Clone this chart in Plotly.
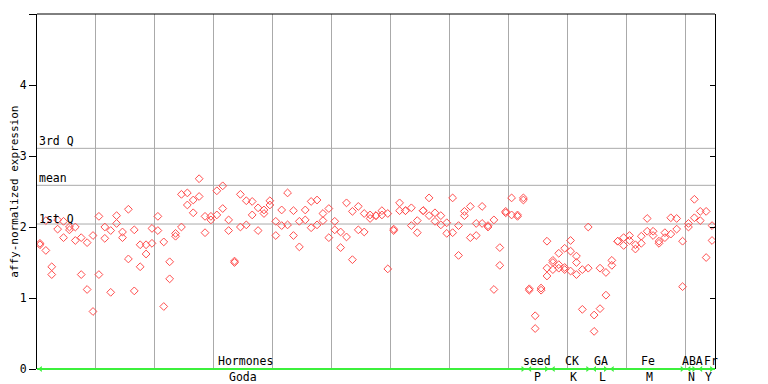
import plotly.graph_objects as go

# ---- data ----
rep1 = [1.77, 2.09, 1.44, 2.10, 2.08, 2.00, 2.00, 1.85, 1.78, 1.88,
        2.15, 2.00, 1.95, 2.16, 1.93, 2.25, 1.96, 1.75, 1.75, 1.98,
        2.15, 1.79, 1.51, 1.91, 2.46, 2.48, 2.38, 2.68, 2.15, 2.15,
        2.51, 2.58, 2.10, 1.52, 2.46, 2.37, 2.36, 2.27, 2.24, 2.37,
        2.08, 2.24, 2.48, 2.23, 2.08, 2.24, 2.36, 2.38, 2.19, 2.26,
        2.08, 1.93, 2.34, 2.22, 2.29, 2.19, 2.17, 2.16, 2.23, 2.19,
        1.97, 2.34, 2.23, 2.27, 2.09, 2.23, 2.41, 2.20, 2.16, 2.06,
        2.41, 2.02, 2.22, 2.29, 2.05, 2.29, 2.02, 2.10, 1.71, 2.22,
        2.41, 2.17, 2.41, 1.13, 0.75, 1.14, 1.80, 1.53, 1.63, 1.70,
        1.81, 1.59, 1.40, 2.00, 0.76, 1.42, 1.36, 1.53, 1.80, 1.85,
        1.88, 1.75, 1.87, 2.12, 1.94, 1.80, 1.92, 2.13, 2.12, 1.80,
        2.05, 2.39, 2.22, 2.22, 2.02]
rep2 = [1.75, 1.67, 1.33, 1.97, 1.85, 1.96, 1.81, 1.33, 1.12, 0.81,
        1.33, 1.84, 1.08, 2.05, 1.85, 1.55, 1.10, 1.44, 1.62, 1.77,
        1.95, 0.88, 1.27, 1.87, 2.00, 2.31, 2.20, 2.43, 1.92, 2.10,
        2.17, 2.26, 1.95, 1.50, 2.00, 2.03, 2.17, 1.95, 2.19, 2.31,
        1.88, 2.02, 2.03, 1.88, 1.72, 2.10, 1.99, 2.03, 2.09, 1.85,
        1.96, 1.71, 1.86, 1.54, 1.96, 1.93, 2.12, 2.16, 2.17, 1.41,
        1.95, 2.23, 2.23, 2.02, 1.92, 2.23, 2.16, 2.08, 2.03, 1.91,
        1.92, 1.60, 2.16, 1.85, 1.88, 2.05, 2.00, 1.12, 1.46, 2.20,
        2.17, 2.15, 2.38, 1.11, 0.57, 1.11, 1.42, 1.50, 1.47, 1.43,
        1.66, 1.50, 0.84, 1.42, 0.53, 0.85, 1.04, 1.46, 1.80, 1.74,
        1.81, 1.69, 1.77, 1.94, 1.88, 1.77, 1.85, 1.90, 1.97, 1.16,
        2.00, 2.13, 2.09, 1.57, 1.81]
rep3_idx = [86, 87, 88, 89, 90, 91]
rep3 = [1.31, 1.40, 1.42, 1.40, 1.38, 1.33]

q_values = [3.108, 2.587, 2.042]
q_labels = ["3rd Q", "mean", "1st Q"]

groups_top = ["Hormones", "seed", "CK", "GA", "Fe", "ABA", "Fr"]
groups_bottom = ["Goda", "P", "K", "L", "M", "N", "Y"]
group_start = [0, 83, 87, 94, 97, 110, 112]
group_end = [83, 87, 94, 97, 110, 112, 115]
label_top_x = [35.3, 84.8, 90.7, 95.6, 103.6, 111.2, 114.4]
label_bot_x = [34.9, 84.9, 91.0, 95.9, 103.9, 111.0, 113.9]

n_samples = len(rep1)
x_pos = [i + 0.5 for i in range(n_samples)]

RED = "#ff4d4d"
GREEN = "#3cf03c"
GRID = "#aaaaaa"
FONT = "DejaVu Sans Mono"

fig = go.Figure()
marker = dict(symbol="diamond-open", size=6, color=RED, line=dict(width=1, color=RED))
fig.add_trace(go.Scatter(x=x_pos, y=rep1, mode="markers", marker=marker, showlegend=False))
fig.add_trace(go.Scatter(x=x_pos, y=rep2, mode="markers", marker=marker, showlegend=False))
fig.add_trace(go.Scatter(x=[i + 0.5 for i in rep3_idx], y=rep3, mode="markers",
                         marker=marker, showlegend=False))
# invisible trace for right axis
fig.add_trace(go.Scatter(x=[0], y=[0], yaxis="y2", mode="markers",
                         marker=dict(opacity=0), showlegend=False, hoverinfo="skip"))

# green group arrows
arr_l = [s + 0.6 for s in group_start]
arr_r = [e - 0.6 for e in group_end]
fig.add_trace(go.Scatter(x=arr_l, y=[0] * len(arr_l), mode="markers", cliponaxis=False,
                         marker=dict(symbol="triangle-left", size=5, color=GREEN),
                         showlegend=False, hoverinfo="skip"))
fig.add_trace(go.Scatter(x=arr_r, y=[0] * len(arr_r), mode="markers", cliponaxis=False,
                         marker=dict(symbol="triangle-right", size=5, color=GREEN),
                         showlegend=False, hoverinfo="skip"))

shapes = []
for q in q_values:
    shapes.append(dict(type="line", xref="paper", x0=0, x1=1, yref="y", y0=q, y1=q,
                       line=dict(color=GRID, width=1), layer="below"))
shapes.append(dict(type="line", xref="paper", x0=0, x1=1, yref="paper", y0=1, y1=1,
                   line=dict(color="black", width=1)))
shapes.append(dict(type="line", xref="paper", x0=0, x1=1, yref="paper", y0=0, y1=0,
                   line=dict(color=GREEN, width=2)))

annotations = []
q_label_y = [3.21, 2.69, 2.11]
for lab, yv in zip(q_labels, q_label_y):
    annotations.append(dict(text=lab, xref="paper", x=0, xanchor="left", yref="y", y=yv,
                            yanchor="middle", showarrow=False,
                            font=dict(family=FONT, size=11.5, color="black")))
for lab, xv in zip(groups_top, label_top_x):
    annotations.append(dict(text=lab, xref="x", x=xv, yref="y", y=0.115, xanchor="center",
                            yanchor="middle", showarrow=False,
                            font=dict(family=FONT, size=11.5, color="black")))
for lab, xv in zip(groups_bottom, label_bot_x):
    annotations.append(dict(text=lab, xref="x", x=xv, yref="paper", y=-0.0225,
                            xanchor="center", yanchor="middle", showarrow=False,
                            font=dict(family=FONT, size=11.5, color="black")))
annotations.append(dict(text="affy-normalized expression", xref="paper", x=-0.0335,
                        xanchor="center", yref="paper", y=0.50, yanchor="middle",
                        textangle=-90, showarrow=False,
                        font=dict(family=FONT, size=11, color="black")))

# the page body has an 8px margin, so the figure is 760x376 and offsets are reduced by 8
fig.update_layout(
    width=760, height=376,
    margin=dict(l=29, r=53, t=6, b=15, autoexpand=False),
    paper_bgcolor="white", plot_bgcolor="white",
    xaxis=dict(range=[0, n_samples], tick0=0, dtick=10, showgrid=True, gridcolor=GRID,
               gridwidth=1, showticklabels=False, ticks="", showline=False, zeroline=False,
               automargin=False),
    yaxis=dict(range=[0, 5], tickvals=[0, 1, 2, 3, 4, 5], ticks="outside", ticklen=7,
               tickcolor="black", showline=True, linecolor="black", linewidth=1,
               showgrid=False, zeroline=False, automargin=False,
               tickfont=dict(family=FONT, size=11.5, color="black")),
    yaxis2=dict(range=[0, 5], overlaying="y", side="right", tickvals=[0, 1, 2, 3, 4, 5],
                ticks="inside", ticklen=5, tickcolor="black", showticklabels=False,
                showline=True, linecolor="black", linewidth=1, showgrid=False, zeroline=False,
                automargin=False),
    shapes=shapes, annotations=annotations,
)

fig.write_html("out.html")
